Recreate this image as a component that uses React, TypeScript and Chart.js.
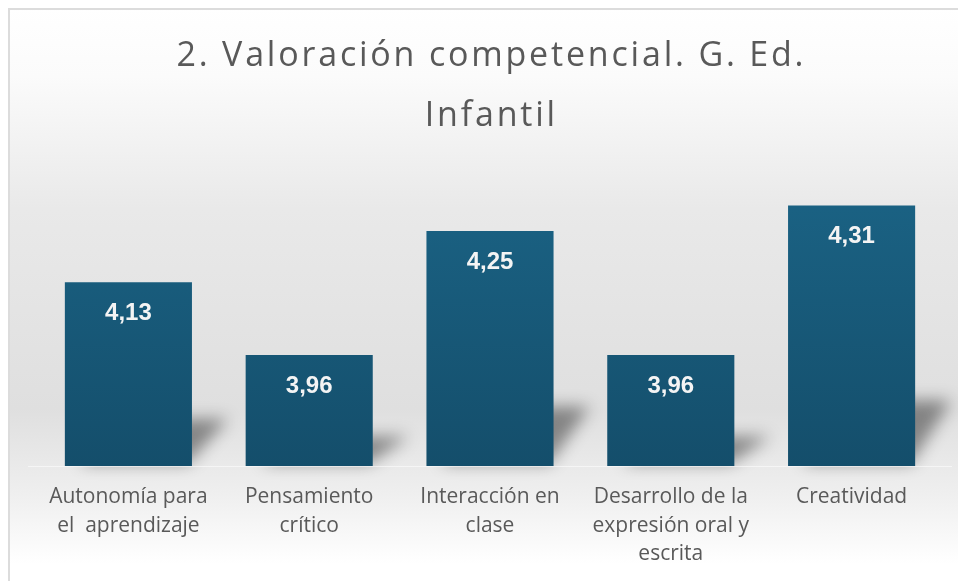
import React, { useEffect, useRef } from "react";
import { Chart, registerables } from "chart.js";

Chart.register(...registerables);

const titleLines = ["2. Valoración competencial. G. Ed.", "Infantil"];
const categories = [
  ["Autonomía para", "el  aprendizaje"],
  ["Pensamiento", "crítico"],
  ["Interacción en", "clase"],
  ["Desarrollo de la", "expresión oral y", "escrita"],
  ["Creatividad"],
];
const values = [4.13, 3.96, 4.25, 3.96, 4.31];
const yMin = 3.7;
const yMax = 4.4;

function drawShadows(chart: any) {
  const { ctx } = chart;
  const meta = chart.getDatasetMeta(0);
  const area = chart.chartArea;
  const off = 3000;
  ctx.save();
  ctx.shadowColor = "rgba(0,0,0,0.42)";
  ctx.shadowBlur = 16;
  ctx.shadowOffsetX = off;
  ctx.shadowOffsetY = 0;
  ctx.fillStyle = "#000";
  meta.data.forEach((bar: any) => {
    const w = typeof bar.width === "number" ? bar.width : 127;
    const x0 = bar.x - w / 2 - off;
    const x1 = bar.x + w / 2 - off;
    const b = area.bottom;
    const H = 0.24 * (b - bar.y);
    ctx.beginPath();
    ctx.moveTo(x0 + 15, b - 3);
    ctx.lineTo(x1 - 4, b - 3);
    ctx.lineTo(x1 + 36, b - 3 - H);
    ctx.lineTo(x0 + 55, b - 3 - H);
    ctx.closePath();
    ctx.fill();
  });
  ctx.restore();
}

const bgPlugin = {
  id: "bgPlugin",
  beforeDraw(chart: any) {
    const { ctx, width, height } = chart;
    ctx.save();
    const g = ctx.createLinearGradient(0, 0, 0, height);
    g.addColorStop(0, "#ffffff");
    g.addColorStop(0.12, "#fbfbfb");
    g.addColorStop(0.35, "#e9e9e9");
    g.addColorStop(0.7, "#dfdfdf");
    g.addColorStop(0.85, "#efefef");
    g.addColorStop(0.97, "#ffffff");
    g.addColorStop(1, "#ffffff");
    ctx.fillStyle = g;
    ctx.fillRect(0, 0, width, height);
    ctx.fillStyle = "#dcdcdc";
    ctx.fillRect(0, 0, width, 2);
    ctx.fillRect(0, 0, 2, height);

    const area = chart.chartArea;
    const cx = (area.left + area.right) / 2;
    ctx.fillStyle = "#595959";
    ctx.font = "34px 'Open Sans', sans-serif";
    ctx.textAlign = "center";
    ctx.textBaseline = "middle";
    const ls = 2.8;
    (ctx as any).letterSpacing = ls + "px";
    ctx.fillText(titleLines[0], cx + ls / 2, 48);
    ctx.fillText(titleLines[1], cx + ls / 2, 108);
    (ctx as any).letterSpacing = "0px";
    ctx.restore();
    drawShadows(chart);
  },
  afterDatasetsDraw(chart: any) {
    const { ctx } = chart;
    const meta = chart.getDatasetMeta(0);
    ctx.save();
    ctx.fillStyle = "#f4f4f4";
    ctx.font = "bold 24px 'Liberation Sans', Arial, sans-serif";
    ctx.textAlign = "center";
    ctx.textBaseline = "alphabetic";
    meta.data.forEach((bar: any, i: number) => {
      ctx.fillText(values[i].toFixed(2).replace(".", ","), bar.x, bar.y + 38);
    });
    const area = chart.chartArea;
    ctx.fillStyle = "rgba(255,255,255,0.6)";
    ctx.fillRect(area.left - 10, area.bottom, area.right - area.left + 20, 1);
    ctx.restore();
  },
};

export default function App() {
  const ref = useRef<HTMLCanvasElement | null>(null);
  useEffect(() => {
    if (!ref.current) return;
    const ctx = ref.current.getContext("2d")!;
    const grad = ctx.createLinearGradient(0, 160, 0, 457);
    grad.addColorStop(0, "#1b6486");
    grad.addColorStop(1, "#144e6b");
    const chart = new Chart(ref.current, {
      type: "bar",
      data: {
        labels: categories,
        datasets: [
          {
            data: values,
            backgroundColor: grad,
            borderWidth: 0,
            barPercentage: 0.703,
            categoryPercentage: 1,
          },
        ],
      },
      plugins: [bgPlugin],
      options: {
        animation: false,
        responsive: false,
        layout: { padding: { left: 30, right: 16, top: 159, bottom: 4 } },
        plugins: {
          legend: { display: false },
          tooltip: { enabled: false },
          title: { display: false },
        },
        scales: {
          x: {
            grid: { display: false },
            border: { display: false },
            ticks: {
              color: "#595959",
              font: { family: "'Open Sans', sans-serif", size: 21, lineHeight: 1.38 },
              padding: 8,
              maxRotation: 0,
              autoSkip: false,
            },
          },
          y: {
            display: false,
            min: yMin,
            max: yMax,
          },
        },
      },
    });
    return () => chart.destroy();
  }, []);
  return (
    <div style={{ position: "absolute", left: 8, top: 8, width: 950, height: 573 }}>
      <canvas ref={ref} width={950} height={573} style={{ display: "block" }} />
    </div>
  );
}
